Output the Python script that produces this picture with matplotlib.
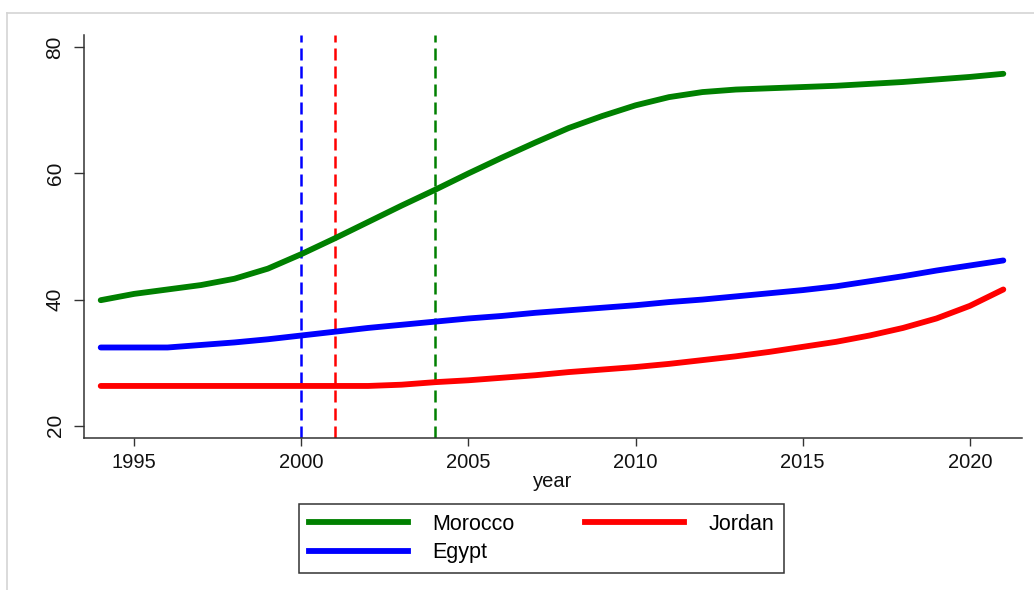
import matplotlib
matplotlib.use("Agg")
import matplotlib.pyplot as plt
from matplotlib.lines import Line2D

plt.rcParams['font.family'] = ['Liberation Sans', 'DejaVu Sans']

years = list(range(1994, 2022))
morocco = [39.9, 40.9, 41.6, 42.3, 43.3, 44.9, 47.2, 49.7, 52.3, 54.9, 57.4, 60.0,
           62.5, 64.9, 67.2, 69.1, 70.8, 72.1, 72.9, 73.3, 73.5, 73.7, 73.9, 74.2,
           74.5, 74.9, 75.3, 75.8]
jordan = [26.3, 26.3, 26.3, 26.3, 26.3, 26.3, 26.3, 26.3, 26.3, 26.5, 26.9, 27.2,
          27.6, 28.0, 28.5, 28.9, 29.3, 29.8, 30.4, 31.0, 31.7, 32.5, 33.3, 34.3,
          35.5, 37.0, 39.0, 41.6]
egypt = [32.4, 32.4, 32.4, 32.8, 33.2, 33.7, 34.3, 34.9, 35.5, 36.0, 36.5, 37.0,
         37.4, 37.9, 38.3, 38.7, 39.1, 39.6, 40.0, 40.5, 41.0, 41.5, 42.1, 42.9,
         43.7, 44.6, 45.4, 46.2]
event_years = {'Egypt': 2000, 'Jordan': 2001, 'Morocco': 2004}
xticks = [1995, 2000, 2005, 2010, 2015, 2020]
yticks = [20, 40, 60, 80]

colors = {'Morocco': '#008000', 'Jordan': '#ff0000', 'Egypt': '#0000ff'}

W, H = 1034, 590
fig = plt.figure(figsize=(W / 100, H / 100), dpi=100)
ax = fig.add_axes([84 / W, 1 - 438.3 / H, (1021.7 - 84) / W, (438.3 - 35) / H])

for name, yr in event_years.items():
    ax.axvline(yr, color=colors[name], lw=1.8, dashes=(4.8, 2.4), zorder=1)

ax.plot(years, morocco, color=colors['Morocco'], lw=4.2, label='Morocco',
        solid_capstyle='round', zorder=3)
ax.plot(years, jordan, color=colors['Jordan'], lw=4.2, label='Jordan',
        solid_capstyle='round', zorder=3)
ax.plot(years, egypt, color=colors['Egypt'], lw=4.2, label='Egypt',
        solid_capstyle='round', zorder=3)

ax.set_xlim(1993.5, 2021.55)
ax.set_ylim(18.0, 81.95)
ax.set_xticks(xticks)
ax.set_yticks(yticks)
ax.set_xticklabels([str(t) for t in xticks], fontsize=14.5, color='#111111')
ax.set_yticklabels([str(t) for t in yticks], fontsize=15, rotation=90,
                   va='center', color='#111111')
ax.tick_params(axis='x', length=5.5, width=1, color='#333333', pad=5)
ax.tick_params(axis='y', length=7, width=1, color='#333333', pad=7)
for s in ['top', 'right']:
    ax.spines[s].set_visible(False)
for s in ['left', 'bottom']:
    ax.spines[s].set_color('#333333')
    ax.spines[s].set_linewidth(1.1)
ax.set_xlabel('year', fontsize=14.5, labelpad=0, color='#111111')

handles = [Line2D([], [], color=colors['Morocco'], lw=4.2),
           Line2D([], [], color=colors['Egypt'], lw=4.2),
           Line2D([], [], color=colors['Jordan'], lw=4.2)]
labels = ['Morocco', 'Egypt', 'Jordan']
leg = fig.legend(handles, labels, ncol=2, loc='upper left',
                 bbox_to_anchor=(299 / W, 1 - 504 / H),
                 bbox_transform=fig.transFigure,
                 fontsize=15.5, frameon=True, fancybox=False, shadow=False,
                 borderpad=0.45, handlelength=4.6, handletextpad=1.12,
                 columnspacing=3.3, labelspacing=0.35, borderaxespad=0)
leg.get_frame().set_edgecolor('#333333')
leg.get_frame().set_linewidth(1.1)
leg.get_frame().set_alpha(1)

# outer light-gray graph border
fig.add_artist(Line2D([7.3 / W, 7.3 / W], [0, 1 - 12.7 / H], color='#d4d4d4',
                      lw=1.2, transform=fig.transFigure))
fig.add_artist(Line2D([7.3 / W, 1], [1 - 12.7 / H, 1 - 12.7 / H], color='#d4d4d4',
                      lw=1.2, transform=fig.transFigure))

fig.savefig('out.png', dpi=100, facecolor='white')
